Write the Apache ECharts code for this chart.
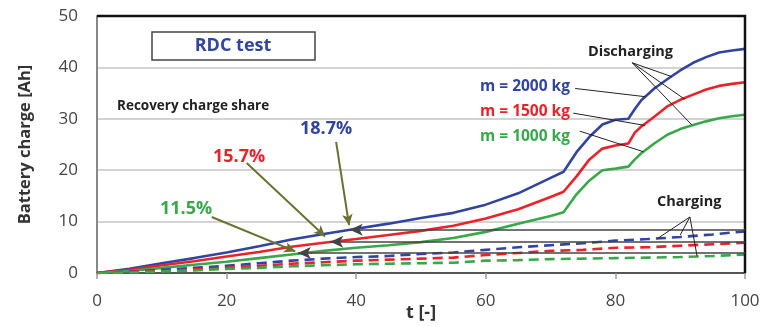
<!DOCTYPE html>
<html><head><meta charset="utf-8">
<script src="https://cdn.jsdelivr.net/npm/echarts@6/dist/echarts.min.js"></script>
<style>html,body{margin:0;padding:0;background:#fff}#c{width:763px;height:327px}</style>
</head><body><div id="c"></div>
<script>
// Discharging curves
const tDis = [0,5,10,15,20,25,30,35,40,45,50,55,60,65,70,72,74,76,78,80,82,83,84,86,88,90,92,94,96,98,100];
const dis2000 = [0,0.8,1.9,2.9,4.0,5.2,6.5,7.6,8.6,9.6,10.7,11.7,13.3,15.5,18.5,19.7,23.5,26.5,28.9,29.8,30.0,31.9,33.6,35.9,37.7,39.4,40.9,42.0,42.9,43.3,43.6];
const dis1500 = [0,0.6,1.5,2.3,3.2,4.1,5.1,5.9,6.6,7.4,8.2,9.2,10.6,12.4,14.8,15.8,18.8,22.1,24.2,24.8,25.2,27.3,28.5,30.4,32.4,33.7,34.7,35.7,36.4,36.8,37.1];
const dis1000 = [0,0.4,1.0,1.6,2.2,2.9,3.6,4.3,4.9,5.4,6.0,6.8,8.0,9.6,11.1,11.8,15.3,18.0,20.0,20.3,20.7,22.1,23.3,25.2,26.9,28.0,28.8,29.5,30.1,30.5,30.8];
// Charging curves
const tChg = [0,5,10,15,20,25,30,35,40,45,50,55,60,65,70,75,80,85,90,95,100];
const chg2000 = [0,0.3,0.6,1.0,1.4,1.9,2.4,2.8,3.1,3.3,3.7,4.0,4.5,5.0,5.4,5.8,6.3,6.6,7.0,7.5,8.1];
const chg1500 = [0,0.2,0.4,0.7,1.0,1.4,1.8,2.1,2.4,2.6,2.8,3.0,3.5,3.9,4.3,4.5,4.9,5.0,5.3,5.6,5.9];
const chg1000 = [0,0.1,0.3,0.5,0.8,1.0,1.3,1.5,1.7,1.8,1.9,2.0,2.4,2.5,2.7,2.8,2.9,3.0,3.1,3.3,3.6];
const xTicks = [0,20,40,60,80,100];
const yTicks = [0,10,20,30,40,50];
const shares = ['18.7%','15.7%','11.5%'];
const massLabels = ['m = 2000 kg','m = 1500 kg','m = 1000 kg'];

const BLUE='#32459e', RED='#e8232a', GREEN='#38a84a', OLIVE='#6a7232';
const FONT='"Open Sans", sans-serif';
const zip=(t,v)=>t.map((x,i)=>[x,v[i]]);

const chart = echarts.init(document.getElementById('c'));
function solid(d,c){return {type:'line',data:d,showSymbol:false,silent:true,lineStyle:{color:c,width:2.6},z:3};}
function dashed(d,c){return {type:'line',data:d,showSymbol:false,silent:true,lineStyle:{color:c,width:2.6,type:[10,6]},z:3};}

const black = {color:'#444',width:1.6,type:'solid'};
const olive = {color:OLIVE,width:2,type:'solid'};
const thin={color:'#222',width:1,type:'solid'};
function seg(a,b,style,arrowStart,arrowEnd,size){
  return [{coord:a,symbol:arrowStart?'arrow':'none',symbolSize:size,lineStyle:style},
          {coord:b,symbol:arrowEnd?'arrow':'none',symbolSize:size}];
}

const annot = {type:'line',data:[],silent:true,z:5,
  markLine:{silent:true,animation:false,label:{show:false},symbolSize:[9,12],
    data:[
      seg([39,8.4],[100,8.4],black,true,false,[9,13]),
      seg([36,6.1],[100,6.1],black,true,false,[9,13]),
      seg([31,3.9],[100,3.9],black,true,false,[9,13]),
      seg([36.9,25.5],[38.9,9.3],olive,false,true,[8,11]),
      seg([23.1,21.4],[35.2,7.1],olive,false,true,[8,11]),
      seg([17.7,10.9],[30.6,4.2],olive,false,true,[8,11]),
      seg([82.6,40.9],[88.7,38.2],thin,false,false,1),
      seg([82.6,40.9],[90.7,33.8],thin,false,false,1),
      seg([82.6,40.9],[91.8,28.8],thin,false,false,1),
      seg([73.8,35.9],[84.6,34.3],thin,false,false,1),
      seg([73.5,31.1],[84.6,28.7],thin,false,false,1),
      seg([74.5,27.6],[84.3,23.6],thin,false,false,1),
      seg([91.5,10.9],[86.5,6.7],thin,false,false,1),
      seg([91.5,10.9],[90,7.4],thin,false,false,1),
      seg([91.5,10.9],[92.6,3.3],thin,false,false,1)
    ]}};

const txt=(x,y,s,c,size,anchor)=>({type:'text',x:x,y:y,z:10,
  style:{text:s,fill:c,font:'bold '+size+'px '+FONT,
    textAlign:anchor||'left',align:anchor||'left',textVerticalAlign:'middle',verticalAlign:'middle'}});

chart.setOption({
  animation:false,
  grid:{left:97,right:18,top:16,bottom:54,show:false,containLabel:false,outerBoundsMode:'none'},
  xAxis:{type:'value',min:0,max:100,interval:20,
    axisLine:{show:true,lineStyle:{color:'#555',width:2}},
    axisTick:{show:true,length:6,lineStyle:{color:'#999',width:1.5}},
    axisLabel:{color:'#444',fontSize:17,fontFamily:FONT,margin:20},
    splitLine:{show:false}},
  yAxis:{type:'value',min:0,max:50,interval:10,
    axisLine:{show:true,lineStyle:{color:'#888',width:2}},
    axisTick:{show:false},
    axisLabel:{color:'#444',fontSize:17,fontFamily:FONT,margin:19},
    splitLine:{show:true,lineStyle:{color:'#c4c4c4',width:1.5}},
    name:'Battery charge [Ah]',nameLocation:'middle',nameGap:63,
    nameTextStyle:{color:'#333',fontSize:16.5,fontWeight:'bold',fontFamily:FONT}},
  series:[
    solid(zip(tDis,dis2000),BLUE), solid(zip(tDis,dis1500),RED), solid(zip(tDis,dis1000),GREEN),
    dashed(zip(tChg,chg2000),BLUE), dashed(zip(tChg,chg1500),RED), dashed(zip(tChg,chg1000),GREEN),
    annot
  ]
});

const p0 = chart.convertToPixel({gridIndex:0},[0,50]);
const p1 = chart.convertToPixel({gridIndex:0},[100,0]);
chart.setOption({graphic:[
  {type:'polyline',z:4,shape:{points:[[p0[0],p0[1]],[p1[0],p0[1]],[p1[0],p1[1]]]},style:{stroke:'#111',lineWidth:2.5,fill:null}},
  {type:'rect',z:9,shape:{x:152,y:32,width:163,height:28},style:{fill:'#fff',stroke:'#444',lineWidth:1.5}},
  txt(233,46,'RDC test',BLUE,18,'center'),
  txt(421,313,'t [-]','#333',18,'center'),
  txt(117,106,'Recovery charge share','#222',13.5),
  txt(300,129,shares[0],BLUE,18),
  txt(213,157,shares[1],RED,18),
  txt(160,209,shares[2],GREEN,18),
  txt(588,52,'Discharging','#222',14.5),
  txt(480,87,massLabels[0],BLUE,15.5),
  txt(480,112,massLabels[1],RED,15.5),
  txt(480,137,massLabels[2],GREEN,15.5),
  txt(657,202,'Charging','#222',14.5)
]});
</script></body></html>
